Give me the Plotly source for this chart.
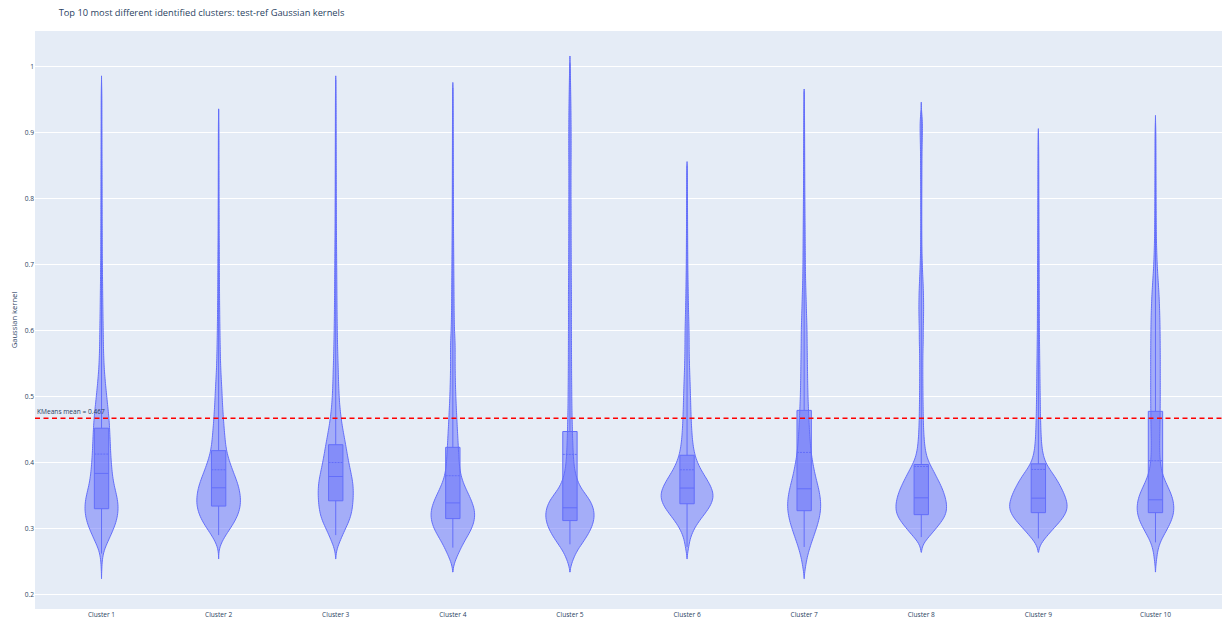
import numpy as np
import plotly.graph_objects as go

clusters = [f"Cluster {i}" for i in range(1, 11)]

# Gaussian-kernel observations per cluster, counted in 0.01-wide bins (0.22 ... 1.01)
kernel_bins = np.round(np.arange(0.22, 1.015, 0.01), 2)

counts_c1 = [0, 0, 6, 12, 28, 65, 130, 190,
             250, 300, 330, 343, 335, 310, 275, 245, 225, 210,
             200, 190, 184, 178, 172, 166, 158, 148, 135, 120,
             107, 93, 80, 68, 58, 50, 45, 41, 38, 36,
             34, 32, 30, 28, 26, 25, 23, 22, 20, 19,
             18, 16, 16, 15, 15, 14, 14, 13, 13, 13,
             12, 12, 12, 11, 11, 11, 10, 10, 9, 9,
             9, 8, 8, 8, 7, 7, 6, 3, 0, 0,
             0, 0]
counts_c2 = [0, 0, 0, 0, 0, 8, 70, 150,
             250, 340, 410, 455, 473, 465, 440, 400, 345, 290,
             240, 195, 163, 145, 132, 120, 109, 99, 90, 82,
             75, 69, 62, 53, 47, 42, 38, 35, 32, 30,
             28, 26, 24, 23, 21, 20, 19, 18, 17, 16,
             16, 15, 14, 13, 12, 11, 11, 10, 10, 9,
             9, 8, 8, 8, 7, 7, 7, 6, 6, 6,
             5, 5, 3, 0, 0, 0, 0, 0, 0, 0,
             0, 0]
counts_c3 = [0, 0, 0, 0, 0, 25, 80, 135,
             195, 260, 305, 330, 343, 350, 350, 340, 315, 287,
             260, 235, 213, 190, 166, 142, 120, 103, 88, 76,
             68, 62, 57, 53, 50, 46, 42, 39, 36, 33,
             31, 29, 27, 26, 25, 24, 23, 22, 21, 20,
             19, 18, 17, 16, 15, 14, 13, 13, 12, 12,
             11, 11, 10, 10, 10, 9, 9, 9, 8, 8,
             8, 7, 7, 7, 6, 6, 5, 4, 0, 0,
             0, 0]
counts_c4 = [0, 0, 0, 40, 100, 160, 230, 310,
             385, 430, 450, 435, 390, 330, 265, 205, 165, 140,
             128, 120, 113, 106, 99, 92, 85, 78, 72, 66,
             60, 56, 52, 49, 47, 46, 46, 47, 46, 40,
             34, 30, 28, 26, 25, 24, 23, 22, 21, 20,
             19, 18, 17, 16, 15, 14, 13, 13, 12, 12,
             11, 11, 10, 10, 10, 9, 9, 9, 8, 8,
             8, 7, 7, 6, 6, 5, 4, 0, 0, 0,
             0, 0]
counts_c5 = [0, 0, 0, 45, 90, 160, 250, 330,
             395, 440, 457, 440, 395, 310, 210, 150, 110, 85,
             72, 63, 57, 52, 48, 45, 42, 39, 37, 35,
             34, 33, 32, 31, 30, 30, 29, 29, 28, 28,
             28, 27, 27, 27, 28, 28, 27, 26, 25, 25,
             24, 24, 23, 23, 22, 22, 22, 21, 21, 21,
             20, 20, 20, 20, 20, 21, 21, 22, 22, 22,
             22, 21, 20, 19, 18, 16, 14, 12, 10, 8,
             5, 0]
counts_c6 = [0, 0, 0, 0, 0, 30, 45, 80,
             140, 220, 320, 420, 490, 520, 485, 420, 340, 260,
             200, 155, 128, 110, 98, 90, 83, 78, 73, 70,
             67, 63, 59, 54, 50, 46, 43, 41, 40, 40,
             38, 35, 32, 29, 26, 24, 22, 20, 18, 16,
             15, 14, 13, 12, 12, 11, 10, 10, 9, 9,
             8, 7, 7, 6, 5, 0, 0, 0, 0, 0,
             0, 0, 0, 0, 0, 0, 0, 0, 0, 0,
             0, 0]
counts_c7 = [0, 0, 25, 45, 75, 115, 160, 210,
             255, 300, 330, 350, 348, 333, 305, 270, 235, 205,
             180, 156, 140, 128, 118, 110, 103, 97, 91, 85,
             80, 77, 74, 72, 70, 68, 66, 64, 62, 61,
             60, 56, 52, 48, 44, 40, 36, 32, 29, 27,
             25, 24, 23, 22, 21, 20, 19, 18, 17, 16,
             15, 14, 13, 13, 12, 12, 11, 11, 10, 10,
             9, 8, 8, 7, 6, 3, 0, 0, 0, 0,
             0, 0]
counts_c8 = [0, 0, 0, 0, 0, 0, 60, 200,
             310, 430, 520, 547, 535, 500, 450, 385, 310, 240,
             160, 110, 83, 67, 57, 50, 45, 42, 40, 38,
             36, 35, 34, 33, 33, 33, 34, 36, 40, 43,
             40, 45, 48, 50, 50, 48, 45, 40, 33, 27,
             22, 18, 15, 13, 12, 11, 11, 11, 11, 11,
             11, 12, 12, 13, 13, 14, 15, 16, 18, 21,
             24, 25, 23, 8, 0, 0, 0, 0, 0, 0,
             0, 0]
counts_c9 = [0, 0, 0, 0, 0, 0, 70, 190,
             300, 430, 530, 590, 575, 530, 470, 400, 320, 220,
             140, 100, 75, 63, 55, 50, 46, 42, 40, 38,
             36, 34, 33, 31, 30, 28, 26, 25, 23, 22,
             20, 20, 19, 19, 18, 18, 17, 17, 16, 16,
             15, 15, 14, 14, 13, 13, 12, 12, 11, 11,
             10, 10, 9, 9, 9, 8, 8, 7, 6, 4,
             0, 0, 0, 0, 0, 0, 0, 0, 0, 0,
             0, 0]
counts_c10 = [0, 0, 0, 20, 35, 60, 110, 190,
              275, 350, 405, 423, 410, 370, 305, 230, 170, 130,
              108, 98, 94, 94, 96, 99, 102, 104, 106, 107,
              108, 108, 108, 108, 108, 108, 108, 107, 106, 105,
              103, 101, 98, 94, 89, 83, 75, 66, 56, 47,
              39, 33, 28, 24, 21, 19, 18, 17, 16, 15,
              14, 14, 13, 13, 12, 12, 11, 11, 10, 10,
              8, 5, 0, 0, 0, 0, 0, 0, 0, 0,
              0, 0]

cluster_counts = [counts_c1, counts_c2, counts_c3, counts_c4, counts_c5,
                  counts_c6, counts_c7, counts_c8, counts_c9, counts_c10]

# Summary statistics per cluster (inner box plots)
kernel_q1 = [0.330, 0.334, 0.342, 0.315, 0.312, 0.3375, 0.327, 0.321, 0.324, 0.324]
kernel_median = [0.3835, 0.3617, 0.3788, 0.3388, 0.3314, 0.3613, 0.3602, 0.3465, 0.346, 0.3435]
kernel_q3 = [0.452, 0.418, 0.427, 0.423, 0.447, 0.411, 0.479, 0.397, 0.398, 0.4776]
kernel_mean = [0.4128, 0.389, 0.400, 0.380, 0.4123, 0.389, 0.4153, 0.394, 0.3895, 0.4027]
kernel_min = [0.262, 0.29, 0.29, 0.271, 0.276, 0.272, 0.272, 0.287, 0.285, 0.279]
kernel_max = [0.975, 0.935, 0.98, 0.968, 1.005, 0.85, 0.962, 0.932, 0.90, 0.915]

kmeans_mean = 0.467

xs, ys = [], []
for name, counts in zip(clusters, cluster_counts):
    counts = np.asarray(counts)
    assert len(counts) == len(kernel_bins), name
    ys.append(np.repeat(kernel_bins, counts))
    xs.extend([name] * int(counts.sum()))
ys = np.concatenate(ys)

blue = "#636efa"
blue_fill = "rgba(99,110,250,0.5)"

fig = go.Figure()
fig.add_trace(go.Violin(
    x=xs, y=ys,
    line=dict(color=blue, width=1),
    fillcolor=blue_fill,
    points=False,
    bandwidth=0.008,
    spanmode="soft",
    scalemode="width",
    box_visible=False,
    meanline_visible=False,
    showlegend=False,
    hoverinfo="skip",
))
fig.add_trace(go.Box(
    x=clusters,
    q1=kernel_q1, median=kernel_median, q3=kernel_q3, mean=kernel_mean,
    lowerfence=kernel_min, upperfence=kernel_max,
    boxpoints=False,
    boxmean=True,
    width=0.1225,
    whiskerwidth=0,
    line=dict(color=blue, width=1),
    fillcolor=blue_fill,
    showlegend=False,
))

fig.add_hline(
    y=kmeans_mean,
    line=dict(color="red", width=1.5, dash="5px,3.5px"),
    annotation_text=f"KMeans mean = {kmeans_mean}",
    annotation_position="top left",
    annotation_font=dict(size=6.6, color="#2a3f5f"),
)

fig.update_layout(
    template="plotly",
    width=1222, height=623,
    margin=dict(l=35, r=0, t=31, b=14),
    title=dict(text="Top 10 most different identified clusters: test-ref Gaussian kernels",
               font=dict(size=9.3), x=0.048, xref="container", y=0.979, yanchor="middle"),
    showlegend=False,
    violinmode="group",
)
fig.update_xaxes(showgrid=False, tickfont=dict(size=6.6))
fig.update_yaxes(range=[0.178, 1.054], dtick=0.1, tickfont=dict(size=6.6),
                 title=dict(text="Gaussian kernel", font=dict(size=7.6), standoff=6),
                 zeroline=False)

fig.write_html("out.html")
